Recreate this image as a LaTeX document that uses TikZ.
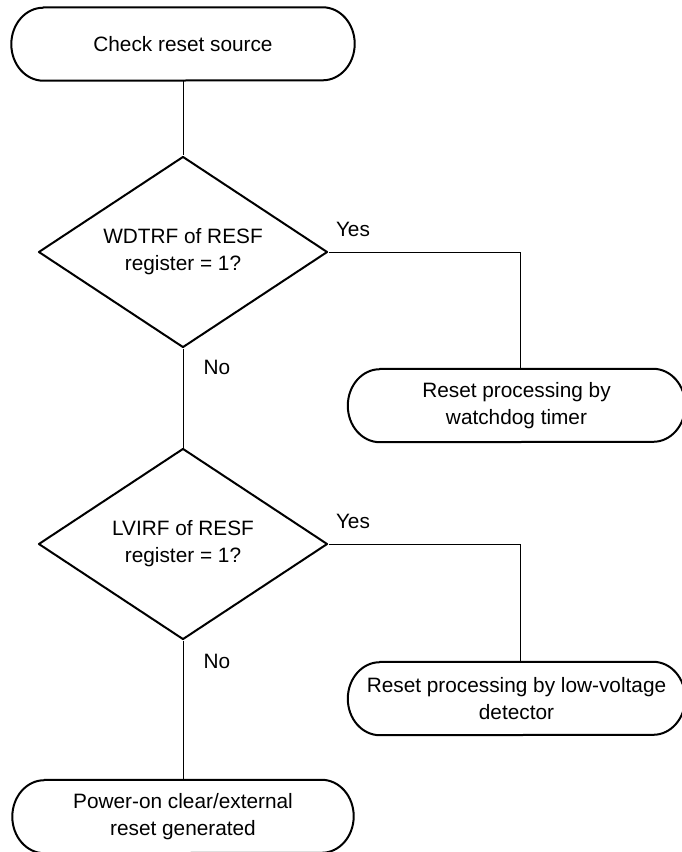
\documentclass[tikz,border=0pt]{standalone}
\usepackage{fontspec}
\setmainfont{Liberation Sans}
\usetikzlibrary{shapes.geometric}
\tikzset{
  outline/.style={line width=2pt, line join=round},
  termbox/.style={minimum width=343pt, minimum height=73pt, inner sep=0pt, align=center,
    append after command={\pgfextra{\draw[outline]
      ([xshift=32pt]\tikzlastnode.north west) -- ([xshift=-32pt]\tikzlastnode.north east)
      arc[start angle=90, end angle=-90, x radius=32pt, y radius=36.5pt]
      -- ([xshift=32pt]\tikzlastnode.south west)
      arc[start angle=270, end angle=90, x radius=32pt, y radius=36.5pt] -- cycle;}}},
  decision/.style={diamond, draw, outline, minimum width=289pt, minimum height=191pt,
                   aspect=1.5, inner sep=0pt, align=center},
  conn/.style={line width=1pt},
  yeslabel/.style={pos=0, anchor=south west, inner sep=0pt, xshift=7pt, yshift=15pt},
  nolabel/.style={pos=0, anchor=north west, inner sep=0pt, xshift=20pt, yshift=-11pt},
}
\begin{document}
\begin{tikzpicture}[x=1pt, y=1pt, node distance=208pt, font=\fontsize{20.8}{27}\selectfont]
  \useasboundingbox (0,0) rectangle (681,-852);

  % Nodes
  \node [termbox] (start) at (183,-44) {Check reset source};
  \node [decision, below of=start] (wdt) {WDTRF of RESF\\register = 1?};
  \node [decision, below of=wdt, yshift=-84pt] (lvi) {LVIRF of RESF\\register = 1?};
  \node [termbox, below of=lvi, yshift=-64.5pt, minimum width=341pt] (por)
    {Power-on clear/external\\reset generated};

  \node [termbox, below of=wdt, xshift=333.5pt, yshift=54.5pt, minimum width=337pt] (wdtproc)
    {Reset processing by\\watchdog timer};
  \node [termbox, below of=lvi, xshift=333.5pt, yshift=53.5pt, minimum width=337pt] (lviproc)
    {Reset processing by low-voltage\\detector};

  % Edges
  \draw [conn] (start) -- (wdt);
  \draw [conn] (wdt) -- node[nolabel] {No} (lvi);
  \draw [conn] (lvi) -- node[nolabel, yshift=-2pt] {No} (por);
  \draw [conn] (wdt) -| node[yeslabel] {Yes} ([xshift=3.5pt]wdtproc.north);
  \draw [conn] (lvi) -| node[yeslabel] {Yes} ([xshift=3.5pt]lviproc.north);
\end{tikzpicture}
\end{document}
